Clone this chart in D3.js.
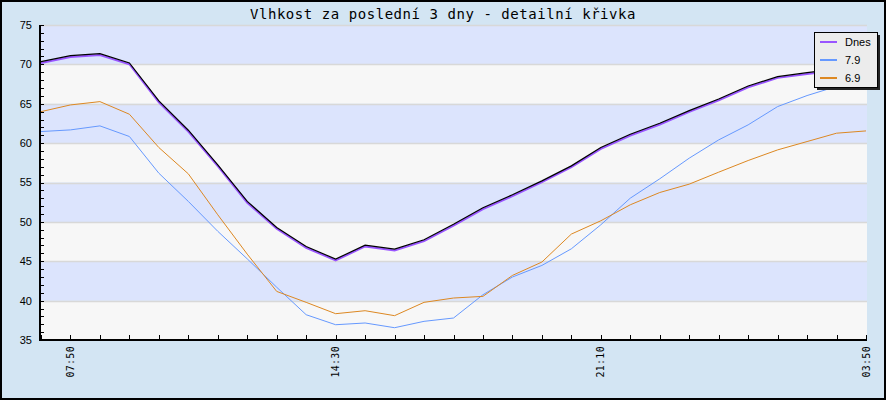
<!DOCTYPE html>
<html><head><meta charset="utf-8">
<script src="https://cdn.jsdelivr.net/npm/d3@7"></script>
<style>
html,body{margin:0;padding:0;background:#d3e5f3;}
svg{display:block;}
</style></head>
<body>
<svg id="chart" width="886" height="400"></svg>
<script>
const title = "Vlhkost za poslední 3 dny - detailní křivka";
const xLabels = ["", "07:50", "", "", "", "", "", "", "", "", "14:30", "", "", "", "", "", "", "", "", "21:10", "", "", "", "", "", "", "", "", "03:50"];
const seriesNames = ["Dnes", "7.9", "6.9"];
const dnes = [70.35, 71.1, 71.36, 70.18, 65.36, 61.64, 57.24, 52.6, 49.29, 46.88, 45.27, 47.05, 46.54, 47.73, 49.7, 51.79, 53.44, 55.21, 57.11, 59.44, 61.13, 62.53, 64.13, 65.61, 67.26, 68.45, 68.95, 69.4, 69.8];
const den79 = [61.47, 61.68, 62.19, 60.84, 56.18, 52.6, 48.8, 45.3, 41.7, 38.21, 36.94, 37.16, 36.56, 37.37, 37.79, 40.75, 43.0, 44.47, 46.58, 49.63, 53.01, 55.47, 58.09, 60.41, 62.32, 64.64, 66.04, 67.2, 67.7];
const den69 = [64.0, 64.85, 65.27, 63.67, 59.44, 56.1, 50.9, 45.9, 41.17, 39.78, 38.34, 38.72, 38.09, 39.78, 40.33, 40.54, 43.2, 44.9, 48.45, 50.14, 52.17, 53.73, 54.79, 56.31, 57.79, 59.14, 60.2, 61.26, 61.55];
const yTicks = [35, 40, 45, 50, 55, 60, 65, 70, 75];

const colors = {"Dnes": "#9955ff", "7.9": "#6699ff", "6.9": "#dd8822"};

const svg = d3.select("#chart");
const W = 886, H = 400;
const plot = {left: 40, right: 867, top: 25, bottom: 340};

const x = d3.scaleLinear().domain([0, xLabels.length - 1]).range([41, 866]);
const y = d3.scaleLinear().domain([35, 75]).range([plot.bottom, plot.top]);

svg.append("rect").attr("x", 0).attr("y", 0).attr("width", W).attr("height", H).attr("fill", "#d3e5f3");

for (let i = 0; i < yTicks.length - 1; i++) {
  const lo = yTicks[i], hi = yTicks[i + 1];
  svg.append("rect")
    .attr("x", plot.left).attr("width", plot.right - plot.left)
    .attr("y", y(hi)).attr("height", y(lo) - y(hi))
    .attr("fill", (i % 2 === 0) ? "#f7f7f7" : "#dce4fd");
}
svg.append("g").selectAll("line").data(yTicks.slice(1)).join("line")
  .attr("x1", plot.left).attr("x2", plot.right)
  .attr("y1", d => Math.round(y(d)) + 0.5).attr("y2", d => Math.round(y(d)) + 0.5)
  .attr("stroke", "#d8d8d8").attr("stroke-width", 1.5);

const line = d3.line().x((d, i) => x(i)).y(d => y(d));
svg.append("path").datum(den79).attr("d", line).attr("fill", "none").attr("stroke", colors["7.9"]).attr("stroke-width", 1);
svg.append("path").datum(den69).attr("d", line).attr("fill", "none").attr("stroke", colors["6.9"]).attr("stroke-width", 1);
svg.append("path").datum(dnes).attr("d", line).attr("fill", "none").attr("stroke", colors["Dnes"]).attr("stroke-width", 2).attr("transform", "translate(0,1.3)");
svg.append("path").datum(dnes).attr("d", line).attr("fill", "none").attr("stroke", "#000").attr("stroke-width", 1.2);

const yAxisG = svg.append("g");
const minor = d3.range(35, 76, 1);
yAxisG.selectAll("line.t").data(minor).join("line")
  .attr("x1", plot.left).attr("x2", plot.left + 4)
  .attr("y1", d => Math.round(y(d)) + 0.5).attr("y2", d => Math.round(y(d)) + 0.5)
  .attr("stroke", "#000").attr("stroke-width", 1);
yAxisG.append("line").attr("x1", plot.left).attr("x2", plot.left)
  .attr("y1", plot.top).attr("y2", plot.bottom + 1).attr("stroke", "#000").attr("stroke-width", 2);
yAxisG.selectAll("text").data(yTicks).join("text")
  .attr("x", 32).attr("y", d => y(d)).attr("dy", "0.36em")
  .attr("text-anchor", "end")
  .attr("font-family", "Liberation Sans, Arial, sans-serif").attr("font-size", 11)
  .attr("fill", "#000").text(d => d);

const xAxisG = svg.append("g");
xAxisG.selectAll("line").data(xLabels.map((d, i) => i)).join("line")
  .attr("x1", d => Math.round(x(d)) + 0.5).attr("x2", d => Math.round(x(d)) + 0.5)
  .attr("y1", plot.bottom).attr("y2", plot.bottom - 5)
  .attr("stroke", "#000").attr("stroke-width", 1);
xAxisG.append("line").attr("x1", plot.left - 1).attr("x2", plot.right)
  .attr("y1", plot.bottom).attr("y2", plot.bottom).attr("stroke", "#000").attr("stroke-width", 2);
xAxisG.selectAll("text").data(xLabels.map((d, i) => ({d, i})).filter(o => o.d !== "")).join("text")
  .attr("transform", o => `translate(${x(o.i)},346) rotate(-90)`)
  .attr("text-anchor", "end").attr("dy", "0.35em")
  .attr("font-family", "DejaVu Sans Mono, monospace").attr("font-size", 10)
  .attr("letter-spacing", 0.3)
  .attr("fill", "#000").text(o => o.d);

svg.append("text").attr("x", 443).attr("y", 19).attr("text-anchor", "middle")
  .attr("font-family", "DejaVu Sans Mono, monospace").attr("font-size", 14)
  .attr("letter-spacing", 0.55)
  .attr("fill", "#000").text(title);

const lg = svg.append("g");
const lx = 814, ly = 32, lw = 63, lh = 55;
lg.append("rect").attr("x", lx + 3).attr("y", ly + 3).attr("width", lw).attr("height", lh).attr("fill", "#222");
lg.append("rect").attr("x", lx + 0.5).attr("y", ly + 0.5).attr("width", lw).attr("height", lh)
  .attr("fill", "#ececec").attr("stroke", "#000").attr("stroke-width", 1);
seriesNames.forEach((name, i) => {
  const yy = ly + 10 + i * 18;
  lg.append("line").attr("x1", lx + 6).attr("x2", lx + 23).attr("y1", yy).attr("y2", yy)
    .attr("stroke", colors[name]).attr("stroke-width", 2);
  lg.append("text").attr("x", lx + 31).attr("y", yy).attr("dy", "0.36em")
    .attr("font-family", "Liberation Sans, Arial, sans-serif").attr("font-size", 11)
    .attr("fill", "#000").text(name);
});

svg.append("rect").attr("x", 1).attr("y", 1).attr("width", W - 2).attr("height", H - 2)
  .attr("fill", "none").attr("stroke", "#000").attr("stroke-width", 2);
</script>
</body></html>
